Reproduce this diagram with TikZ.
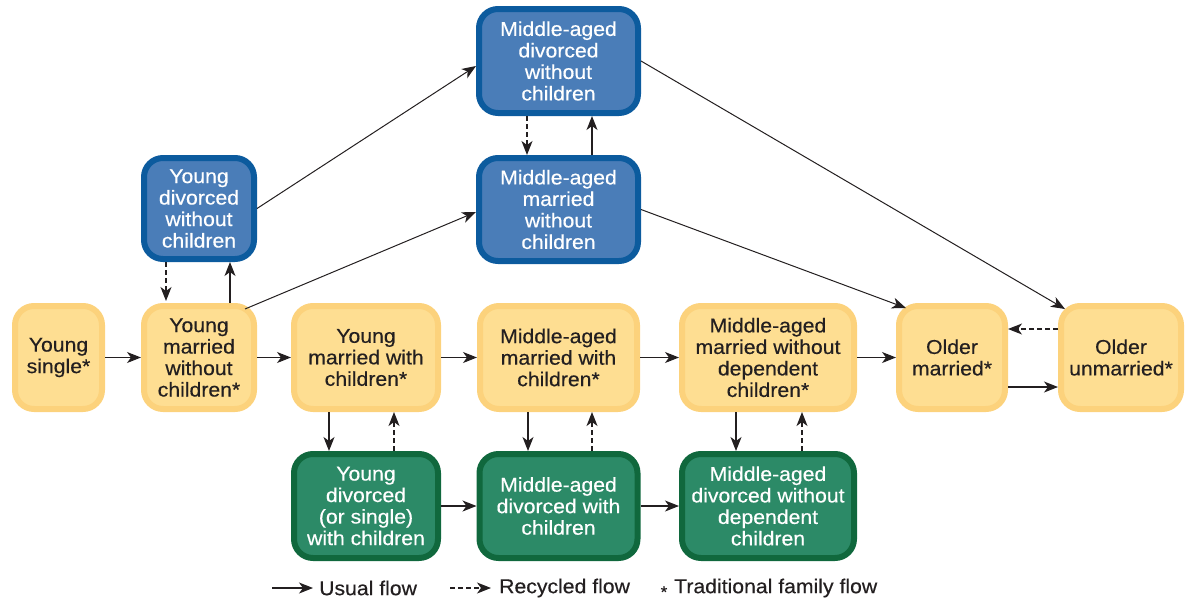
\documentclass[tikz,border=0pt]{standalone}
\usepackage{fontspec}
\setmainfont{Liberation Sans}[FakeStretch=1.06,FakeBold=0.4]
\usetikzlibrary{arrows.meta}
\definecolor{yfill}{HTML}{FEDE92}
\definecolor{yline}{HTML}{FCD27C}
\definecolor{bfill}{HTML}{4A7DB8}
\definecolor{bline}{HTML}{0C5B9E}
\definecolor{gfill}{HTML}{2C8A67}
\definecolor{gline}{HTML}{10683D}
\definecolor{ink}{HTML}{231F20}
\begin{document}
\begin{tikzpicture}[x=1pt,y=-1pt,
 box/.style={rectangle, rounded corners=19pt, line width=6pt, inner sep=0pt, align=center, font=\fontsize{20}{21.5}\selectfont},
 ybox/.style={box, draw=yline, fill=yfill, text=ink},
 bbox/.style={box, draw=bline, fill=bfill, text=white},
 gbox/.style={box, draw=gline, fill=gfill, text=white},
 flow/.style={draw=ink, line width=1.2pt, -{Stealth[length=14pt,width=11pt,inset=4pt]}},
 rflow/.style={flow, dash pattern=on 5pt off 3pt},
 legtext/.style={anchor=west, inner sep=0pt, text=ink, font=\fontsize{20}{21.5}\selectfont},
]
\useasboundingbox (0,0) rectangle (1186,600);

% middle (yellow) row
\node[ybox, minimum width=87pt, minimum height=103pt] (ys) at (58.5,357.5) {Young\\single*};
\node[ybox, minimum width=110pt, minimum height=103pt] (ymwc) at (199,357.5) {Young\\married\\without\\children*};
\node[ybox, minimum width=144pt, minimum height=103pt] (ymc) at (366,357.5) {Young\\married with\\children*};
\node[ybox, minimum width=157pt, minimum height=103pt] (mamc) at (558.5,357.5) {Middle-aged\\married with\\children*};
\node[ybox, minimum width=172pt, minimum height=103pt] (mamwd) at (768,357.5) {Middle-aged\\married without\\dependent\\children*};
\node[ybox, minimum width=106pt, minimum height=103pt] (om) at (952,357.5) {Older\\married*};
\node[ybox, minimum width=120pt, minimum height=103pt] (ou) at (1121,357.5) {Older\\unmarried*};

% blue boxes
\node[bbox, minimum width=110pt, minimum height=101pt] (ydwc) at (199,208.5) {Young\\divorced\\without\\children};
\node[bbox, minimum width=159pt, minimum height=104pt] (madwc) at (558.5,61) {Middle-aged\\divorced\\without\\children};
\node[bbox, minimum width=159pt, minimum height=103pt] (mamwc) at (558.5,209.5) {Middle-aged\\married\\without\\children};

% green boxes
\node[gbox, minimum width=144pt, minimum height=104pt] (ydc) at (366,506) {Young\\divorced\\(or single)\\with children};
\node[gbox, minimum width=158pt, minimum height=104pt] (madc) at (558.5,506) {Middle-aged\\divorced with\\children};
\node[gbox, minimum width=172pt, minimum height=104pt] (madwd) at (768,506) {Middle-aged\\divorced without\\dependent\\children};

% horizontal flows
\draw[flow] (ys) -- (ymwc);
\draw[flow] (ymwc) -- (ymc);
\draw[flow] (ymc) -- (mamc);
\draw[flow] (mamc) -- (mamwd);
\draw[flow] (mamwd) -- (om);
\draw[flow] ([yshift=-29.5pt]om.east) -- ([yshift=-29.5pt]ou.west);
\draw[rflow] ([yshift=28.5pt]ou.west) -- ([yshift=28.5pt]om.east);
\draw[flow] (ydc) -- (madc);
\draw[flow] (madc) -- (madwd);

% vertical flows
\draw[rflow, shorten >=2pt] ([xshift=-33pt]ydwc.south) -- ([xshift=-33pt]ymwc.north);
\draw[flow] ([xshift=31pt]ymwc.north) -- ([xshift=31pt]ydwc.south);
\draw[rflow] ([xshift=-31.5pt]madwc.south) -- ([xshift=-31.5pt]mamwc.north);
\draw[flow] ([xshift=33.5pt]mamwc.north) -- ([xshift=33.5pt]madwc.south);
\draw[flow] ([xshift=-37pt]ymc.south) -- ([xshift=-37pt]ydc.north);
\draw[rflow] ([xshift=28pt]ydc.north) -- ([xshift=28pt]ymc.south);
\draw[flow] ([xshift=-30.5pt]mamc.south) -- ([xshift=-30.5pt]madc.north);
\draw[rflow] ([xshift=33.5pt]madc.north) -- ([xshift=33.5pt]mamc.south);
\draw[flow] ([xshift=-32pt]mamwd.south) -- ([xshift=-32pt]madwd.north);
\draw[rflow] ([xshift=34pt]madwd.north) -- ([xshift=34pt]mamwd.south);

% diagonal flows
\draw[flow, line width=1pt] (ydwc.east) -- ([yshift=-5pt]madwc.west);
\draw[flow, line width=1pt] ([xshift=-12pt,yshift=-6pt]ymwc.north east) -- ([yshift=-2.5pt]mamwc.west);
\draw[flow, line width=1pt] (mamwc.east) -- ([xshift=10pt,yshift=-5pt]om.north west);
\draw[flow, line width=1pt] (madwc.east) -- ([xshift=7pt,yshift=-6pt]ou.north west);

% legend
\coordinate (l1a) at (272,588);
\coordinate (l1b) at (313,588);
\draw[flow] (l1a) -- (l1b);
\node[legtext] (l1t) at (319,588) {Usual flow};
\coordinate (l2a) at (450,588);
\coordinate (l2b) at (491,588);
\draw[rflow] (l2a) -- (l2b);
\node[legtext] (l2t) at (499,588) {Recycled flow};
\node[text=ink, inner sep=0pt, font=\fontsize{16}{16}\selectfont] (l3s) at (664,592) {*};
\node[legtext] (l3t) at (674,588) {Traditional family flow};
\end{tikzpicture}
\end{document}
